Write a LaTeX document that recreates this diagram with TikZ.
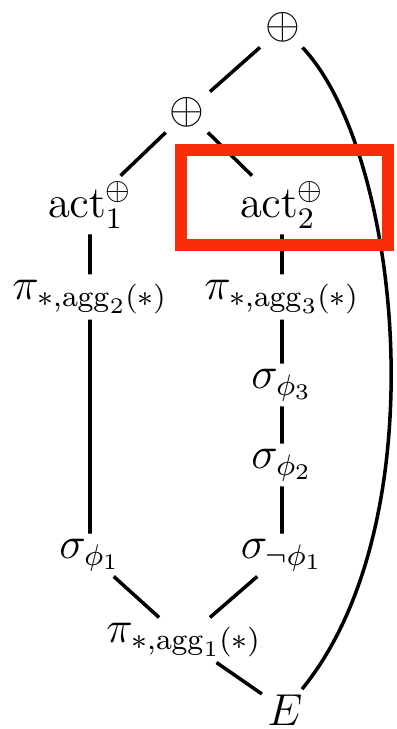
\documentclass[12pt,tikz,border=0pt]{standalone}
\usepackage{amsmath,amssymb}
\usepackage{xcolor}
\usetikzlibrary{positioning}
\definecolor{hlred}{RGB}{250,45,10}
\tikzset{every picture/.append style={line width=1pt}}
\tikzset{lbl/.style={scale=1.06, inner sep=1pt}}
\tikzset{hlbox/.style={draw=hlred, line width=0.12cm, minimum width=2.07cm, minimum height=0.95cm}}

\begin{document}
\begin{tikzpicture}[x=0.01cm, y=-0.01cm]
    \useasboundingbox (0,0) rectangle (396,729);
    \node[lbl] (plustop) at (283,27) {$\oplus$};
    \node[lbl] (plusmid) at (187,112) {$\oplus$};
    \node[lbl] (actone) at (90,205) {$\mathrm{act}_1^{\oplus}$};
    \node[lbl] (acttwo) at (282,205) {$\mathrm{act}_2^{\oplus}$};
    \node[lbl] (pitwo) at (90,297) {$\pi_{*,\mathrm{agg}_2(*)}$};
    \node[lbl] (pithree) at (282,297) {$\pi_{*,\mathrm{agg}_3(*)}$};
    \node[lbl] (sigthree) at (282,385) {$\sigma_{\phi_3}$};
    \node[lbl] (sigtwo) at (282,465) {$\sigma_{\phi_2}$};
    \node[lbl] (sigone) at (90,555) {$\sigma_{\phi_1}$};
    \node[lbl] (signot) at (282,555) {$\sigma_{\neg\phi_1}$};
    \node[lbl] (pione) at (184,640) {$\pi_{*,\mathrm{agg}_1(*)}$};
    \node[lbl] (E) at (285,710) {$E$};
    \draw (plustop) -- (plusmid);
    \draw (plusmid) -- (actone);
    \draw (plusmid) -- (acttwo);
    \draw (actone) -- (pitwo);
    \draw (pitwo) -- (sigone);
    \draw (acttwo) -- (pithree);
    \draw (pithree) -- (sigthree);
    \draw (sigthree) -- (sigtwo);
    \draw (sigtwo) -- (signot);
    \draw (sigone) -- (pione);
    \draw (signot) -- (pione);
    \draw (pione) -- (E);
    \draw (plustop) .. controls (400,150) and (440,520) .. (E);
    \node[hlbox] (hl) at (284.5,197.5) {};
\end{tikzpicture}
\end{document}
